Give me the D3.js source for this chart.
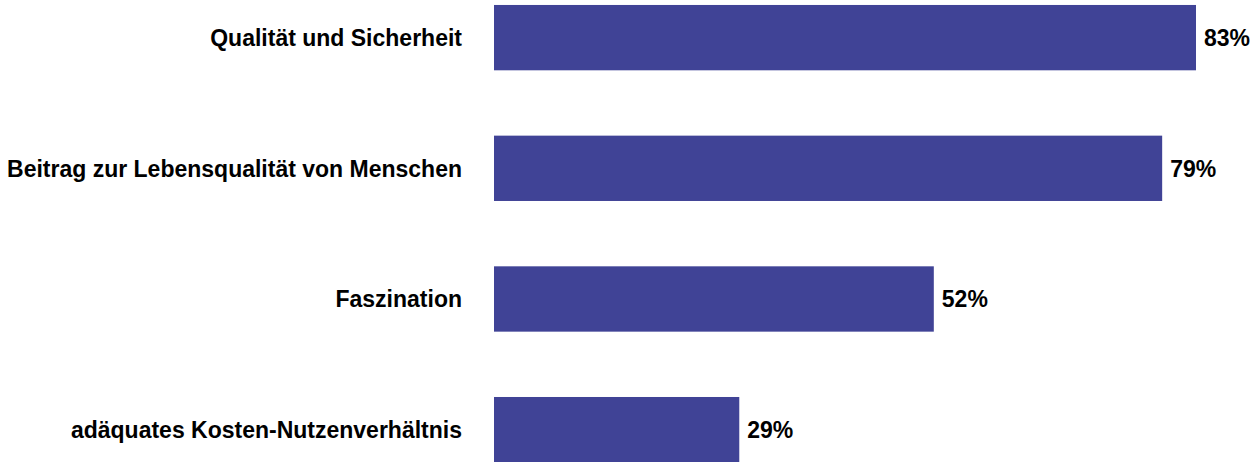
<!DOCTYPE html>
<html><head><meta charset="utf-8">
<script src="https://cdn.jsdelivr.net/npm/d3@7"></script>
<style>body{margin:0;background:#fff}svg{display:block}</style>
</head><body>
<svg id="c" width="1256" height="462"></svg>
<script>
const categories = ["Qualität und Sicherheit","Beitrag zur Lebensqualität von Menschen","Faszination","adäquates Kosten-Nutzenverhältnis"];
const values = [83,79,52,29];
const svg = d3.select("#c");
const x = d3.scaleLinear().domain([0,83]).range([494,1196]);
const y = d3.scaleBand().domain(categories).range([-27.7,495]).paddingInner(0.5).paddingOuter(0.25);
const font = "'Liberation Sans', Arial, sans-serif";
svg.selectAll("rect").data(values).join("rect")
  .attr("x", x(0)).attr("y",(d,i)=>y(categories[i]))
  .attr("width", d=>x(d)-x(0)).attr("height", y.bandwidth())
  .attr("fill","#404396");
svg.selectAll("text.cat").data(categories).join("text").attr("class","cat")
  .attr("x",462).attr("y",d=>y(d)+y.bandwidth()/2).attr("dy","0.36em")
  .attr("text-anchor","end").attr("font-family",font).attr("font-weight","bold")
  .attr("font-size",23).attr("fill","#000").text(d=>d);
svg.selectAll("text.val").data(values).join("text").attr("class","val")
  .attr("x",d=>x(d)+8).attr("y",(d,i)=>y(categories[i])+y.bandwidth()/2).attr("dy","0.36em")
  .attr("font-family",font).attr("font-weight","bold")
  .attr("font-size",23).attr("fill","#000").text(d=>d+"%");
</script>
</body></html>
